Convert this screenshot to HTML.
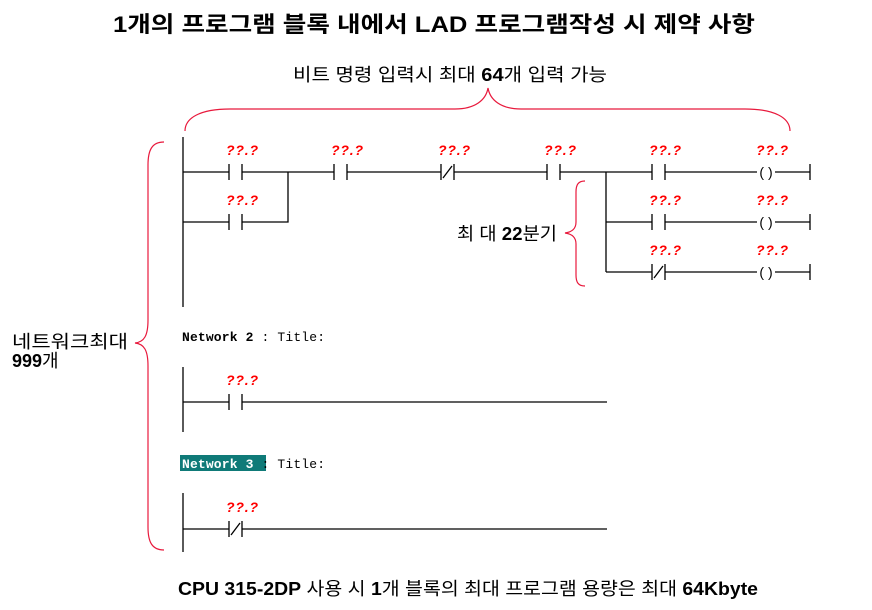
<!DOCTYPE html>
<html><head><meta charset="utf-8"><style>
body{margin:0;background:#fff;width:872px;height:610px;overflow:hidden}
svg{display:block}
.k{font-family:"Liberation Sans","Noto Sans CJK KR",sans-serif;fill:#000}
.q{font-family:"Liberation Sans",sans-serif;font-style:italic;font-weight:bold;font-size:14px;fill:#f00;text-anchor:middle}
.m{font-family:"Liberation Mono",monospace;font-size:13px}
</style></head><body>
<svg width="872" height="610" viewBox="0 0 872 610">
<g stroke="#000" stroke-width="1.3" fill="none">
<line x1="183" y1="137" x2="183" y2="307"/>
<path d="M183 172H229M242 172H334M347 172H441M454 172H547M560 172H652M665 172H757M775 172H810M810 164V180"/>
<path d="M183 222H229M242 222H288V172"/>
<path d="M606 172V272M606 222H652M665 222H757M775 222H810M810 214V230M606 272H652M665 272H757M775 272H810M810 264V280"/>
<path d="M229 164V180M242 164V180M229 214V230M242 214V230M334 164V180M347 164V180M441 164V180M454 164V180M443 178L452 166M547 164V180M560 164V180M652 164V180M665 164V180M652 214V230M665 214V230M652 264V280M665 264V280M654 278L663 266"/>
<line x1="183" y1="367" x2="183" y2="432"/>
<path d="M183 402H229M242 402H607M229 394V410M242 394V410"/>
<line x1="183" y1="493" x2="183" y2="552"/>
<path d="M183 529H229M242 529H607M229 521V537M242 521V537M231 535L240 523"/>
</g>
<g class="k" font-size="14" text-anchor="middle">
<text x="766" y="177">( )</text><text x="766" y="227">( )</text><text x="766" y="277">( )</text>
</g>
<g class="q">
<text x="242" y="155" textLength="32">??.?</text><text x="242" y="205" textLength="32">??.?</text><text x="347" y="155" textLength="32">??.?</text>
<text x="454" y="155" textLength="32">??.?</text><text x="560" y="155" textLength="32">??.?</text><text x="665" y="155" textLength="32">??.?</text>
<text x="772" y="155" textLength="32">??.?</text><text x="665" y="205" textLength="32">??.?</text><text x="772" y="205" textLength="32">??.?</text>
<text x="665" y="255" textLength="32">??.?</text><text x="772" y="255" textLength="32">??.?</text>
<text x="242" y="385" textLength="32">??.?</text><text x="242" y="512" textLength="32">??.?</text>
</g>
<text x="182" y="341" class="m" textLength="143"><tspan font-weight="bold">Network 2</tspan> : Title:</text>
<rect x="180" y="455" width="86" height="16" fill="#0f7a78"/>
<text x="182" y="468" class="m" textLength="143"><tspan font-weight="bold" fill="#fff">Network 3</tspan> : Title:</text>
<g stroke="#e8193c" stroke-width="1.2" fill="none">
<path d="M185 131C185 118 200 109 230 109H455C475 109 486 100 488 88C490 100 501 109 521 109H745C775 109 790 118 790 131"/>
<path d="M164 142C152 142 148 150 148 165V320C148 336 144 342 135 343C144 344 148 350 148 366V527C148 542 152 550 164 550"/>
<path d="M585 181C578 181 576 185 576 192V222C576 229 572 232 565 233C572 234 576 237 576 244V275C576 282 578 286 585 286"/>
</g>
<g class="k">
<text x="113" y="32" font-size="22" font-weight="bold" textLength="642" lengthAdjust="spacingAndGlyphs">1개의 프로그램 블록 내에서 LAD 프로그램작성 시 제약 사항</text>
<text x="293" y="81" font-size="18" textLength="314" lengthAdjust="spacingAndGlyphs">비트 명령 입력시 최대 <tspan font-weight="bold">64</tspan>개 입력 가능</text>
<text x="178" y="595" font-size="18" textLength="580" lengthAdjust="spacingAndGlyphs"><tspan font-weight="bold">CPU 315-2DP</tspan> 사용 시 <tspan font-weight="bold">1</tspan>개 블록의 최대 프로그램 용량은 최대 <tspan font-weight="bold">64Kbyte</tspan></text>
<text x="457" y="240" font-size="18" textLength="100" lengthAdjust="spacingAndGlyphs">최 대 <tspan font-weight="bold">22</tspan>분기</text>
<text x="12" y="348" font-size="18" textLength="116" lengthAdjust="spacingAndGlyphs">네트워크최대</text>
<text x="12" y="367" font-size="18"><tspan font-weight="bold">999</tspan>개</text>
</g>
</svg>
</body></html>
